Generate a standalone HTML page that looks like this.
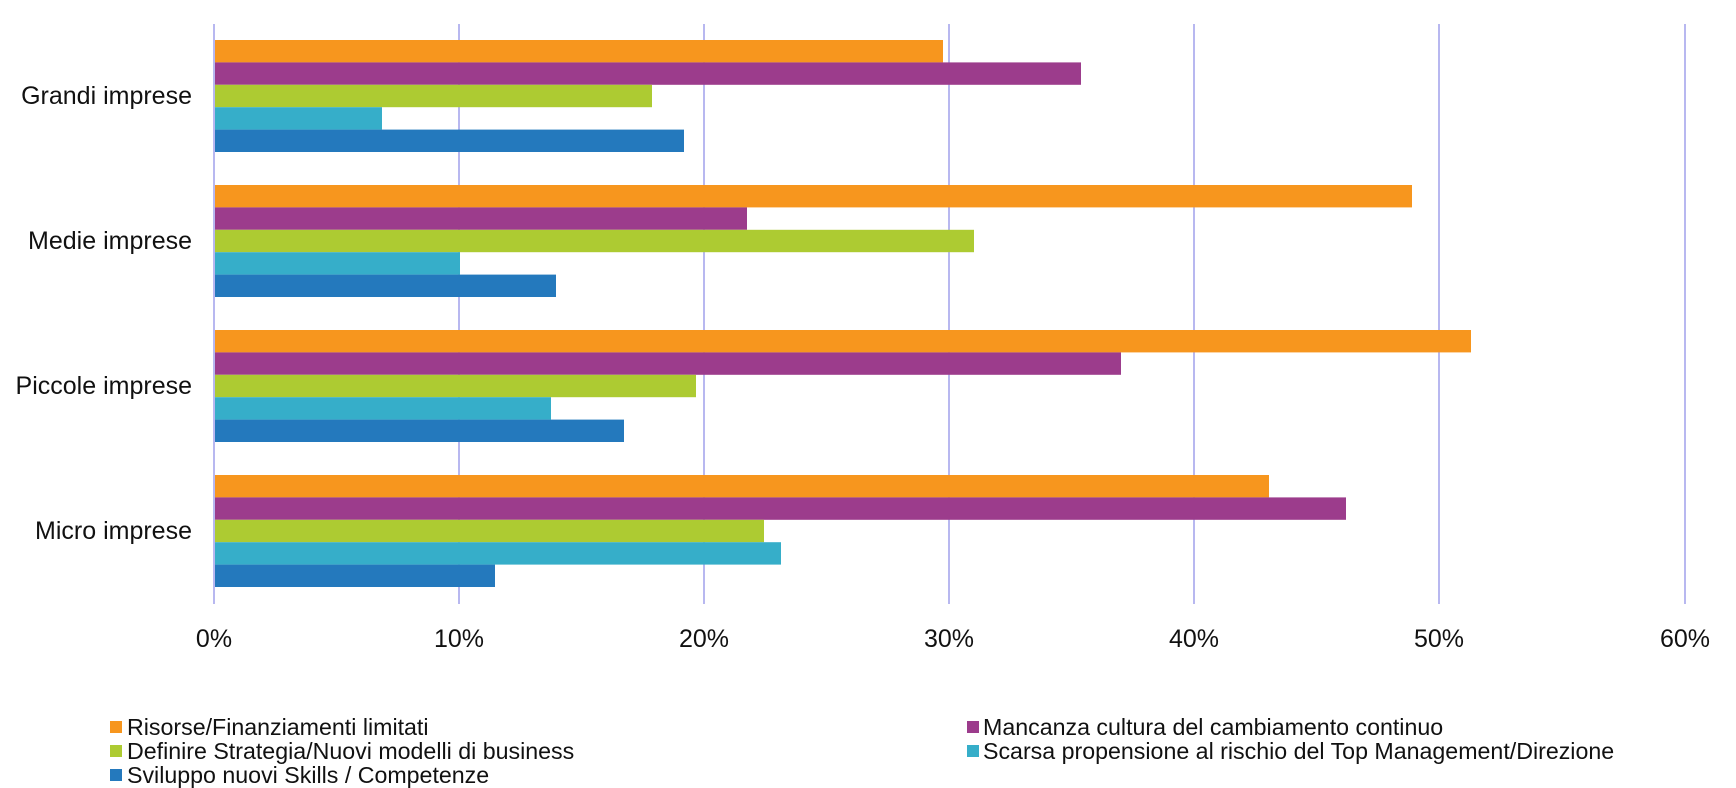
<!DOCTYPE html>
<html><head><meta charset="utf-8"><style>
html,body{margin:0;padding:0;background:#fff;}
svg{display:block;font-family:"Liberation Sans",Arial,sans-serif;}
</style></head><body>
<svg width="1736" height="788" viewBox="0 0 1736 788" xmlns="http://www.w3.org/2000/svg">
<g stroke="#B8B8F0" stroke-width="2">
<line x1="214" y1="24" x2="214" y2="604"/>
<line x1="459" y1="24" x2="459" y2="604"/>
<line x1="704" y1="24" x2="704" y2="604"/>
<line x1="949" y1="24" x2="949" y2="604"/>
<line x1="1194" y1="24" x2="1194" y2="604"/>
<line x1="1439" y1="24" x2="1439" y2="604"/>
<line x1="1685" y1="24" x2="1685" y2="604"/>
</g>
<g font-size="25" fill="#111" text-anchor="end">
<text x="192" y="104">Grandi imprese</text>
<text x="192" y="249">Medie imprese</text>
<text x="192" y="394">Piccole imprese</text>
<text x="192" y="539">Micro imprese</text>
</g>
<g font-size="25" fill="#111" text-anchor="middle">
<text x="214" y="647">0%</text>
<text x="459" y="647">10%</text>
<text x="704" y="647">20%</text>
<text x="949" y="647">30%</text>
<text x="1194" y="647">40%</text>
<text x="1439" y="647">50%</text>
<text x="1685" y="647">60%</text>
</g>
<g font-size="23.2" fill="#111">
<rect x="110" y="721" width="12" height="12" fill="#F7961E"/><text x="127" y="735">Risorse/Finanziamenti limitati</text>
<rect x="110" y="745" width="12" height="12" fill="#ADCB32"/><text x="127" y="759">Definire Strategia/Nuovi modelli di business</text>
<rect x="110" y="769" width="12" height="12" fill="#2479BD"/><text x="127" y="783">Sviluppo nuovi Skills / Competenze</text>
<rect x="967" y="721" width="12" height="12" fill="#9C3C8C"/><text x="983" y="735">Mancanza cultura del cambiamento continuo</text>
<rect x="967" y="745" width="12" height="12" fill="#36AEC9"/><text x="983" y="759">Scarsa propensione al rischio del Top Management/Direzione</text>
</g>
<g>
<rect x="215" y="40" width="728" height="22.4" fill="#F7961E"/>
<rect x="215" y="62.4" width="866" height="22.4" fill="#9C3C8C"/>
<rect x="215" y="84.8" width="437" height="22.4" fill="#ADCB32"/>
<rect x="215" y="107.2" width="167" height="22.4" fill="#36AEC9"/>
<rect x="215" y="129.6" width="469" height="22.4" fill="#2479BD"/>

<rect x="215" y="185" width="1197" height="22.4" fill="#F7961E"/>
<rect x="215" y="207.4" width="532" height="22.4" fill="#9C3C8C"/>
<rect x="215" y="229.8" width="759" height="22.4" fill="#ADCB32"/>
<rect x="215" y="252.2" width="245" height="22.4" fill="#36AEC9"/>
<rect x="215" y="274.6" width="341" height="22.4" fill="#2479BD"/>

<rect x="215" y="330" width="1256" height="22.4" fill="#F7961E"/>
<rect x="215" y="352.4" width="906" height="22.4" fill="#9C3C8C"/>
<rect x="215" y="374.8" width="481" height="22.4" fill="#ADCB32"/>
<rect x="215" y="397.2" width="336" height="22.4" fill="#36AEC9"/>
<rect x="215" y="419.6" width="409" height="22.4" fill="#2479BD"/>

<rect x="215" y="475" width="1054" height="22.4" fill="#F7961E"/>
<rect x="215" y="497.4" width="1131" height="22.4" fill="#9C3C8C"/>
<rect x="215" y="519.8" width="549" height="22.4" fill="#ADCB32"/>
<rect x="215" y="542.2" width="566" height="22.4" fill="#36AEC9"/>
<rect x="215" y="564.6" width="280" height="22.4" fill="#2479BD"/>
</g>
</svg>
</body></html>
